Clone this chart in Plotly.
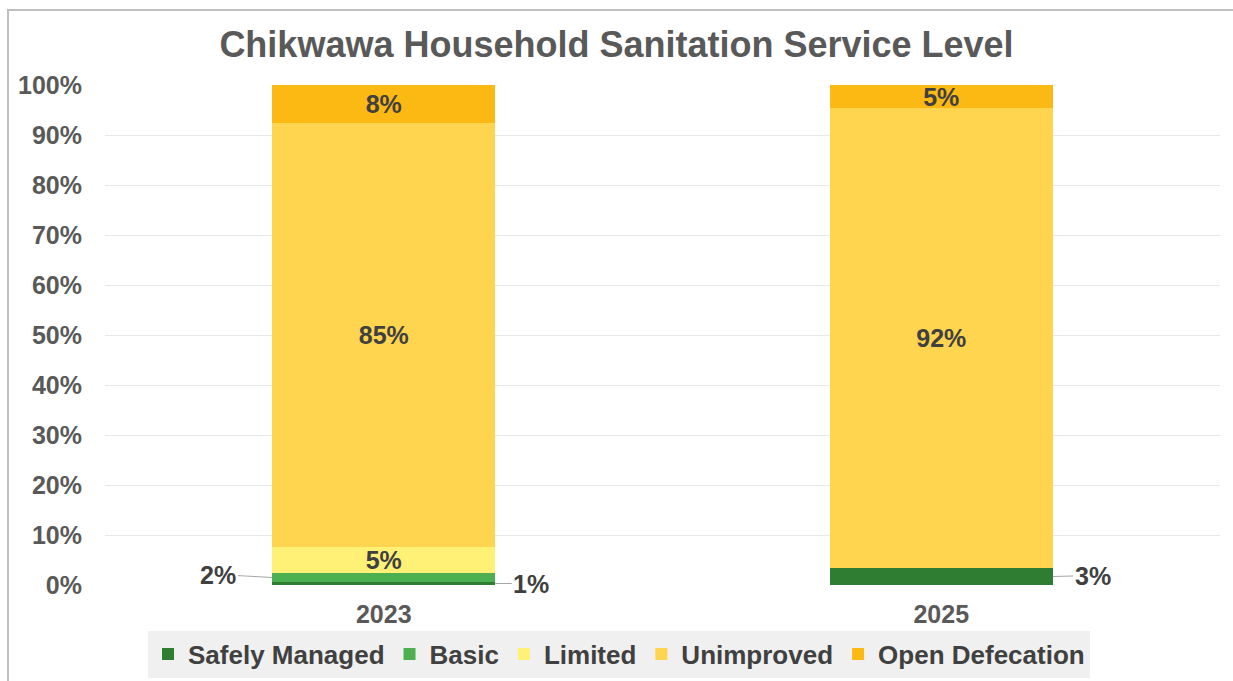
import plotly.graph_objects as go

years = ["2023", "2025"]
series_names = ["Safely Managed", "Basic", "Limited", "Unimproved", "Open Defecation"]
safely_managed = [0.6, 3.4]
basic = [1.8, 0.0]
limited = [5.2, 0.0]
unimproved = [84.8, 92.0]
open_defecation = [7.6, 4.6]
y_ticks = [0, 10, 20, 30, 40, 50, 60, 70, 80, 90, 100]
y_tick_labels = [f"{v}%" for v in y_ticks]

series_values = [safely_managed, basic, limited, unimproved, open_defecation]
colors = ["#2E7D32", "#4CAF50", "#FFF176", "#FFD54F", "#FDB913"]

FONT = "Liberation Sans, Arial, sans-serif"
TXT = "#404040"
BAR_WIDTH = 0.4
INSIDE_MIN = 4
FS = 25

fig = go.Figure()
for name, vals, col in zip(series_names, series_values, colors):
    texts = [f"{round(v)}%" if v >= INSIDE_MIN else "" for v in vals]
    fig.add_trace(go.Bar(
        name=name, x=years, y=vals, marker=dict(color=col, line=dict(width=0)),
        text=texts, textposition="inside", insidetextanchor="middle",
        constraintext="none", textangle=0,
        textfont=dict(family=FONT, size=FS, color=TXT, weight="bold"),
        width=BAR_WIDTH, hoverinfo="skip",
    ))

# outside callout labels for small segments
callouts = [
    # (series index, year index, side, ax, ay)
    (1, 0, -1, -54, -3),
    (0, 0, 1, 36, 0),
    (0, 1, 1, 40, -1),
]
annotations = []
for si, yi, side, ax, ay in callouts:
    below = sum(series_values[k][yi] for k in range(si))
    mid = below + series_values[si][yi] / 2
    annotations.append(dict(
        x=yi + side * BAR_WIDTH / 2, y=mid, xref="x", yref="y",
        text=f"{round(series_values[si][yi])}%", showarrow=True, arrowhead=0,
        arrowwidth=1, arrowcolor="#a6a6a6", ax=ax, ay=ay,
        font=dict(family=FONT, size=FS, color=TXT, weight="bold"), standoff=0,
    ))

fig.update_layout(
    width=1233, height=681,
    margin=dict(l=105, r=13, t=85, b=96, autoexpand=False),
    paper_bgcolor="white", plot_bgcolor="white",
    barmode="stack",
    title=dict(text="Chikwawa Household Sanitation Service Level",
               x=0.5, xanchor="center", y=1 - 44 / 681, yanchor="middle",
               font=dict(family=FONT, size=36, color="#595959", weight="bold")),
    font=dict(family=FONT, color="#595959", weight="bold"),
    yaxis=dict(range=[0, 100], tickvals=y_ticks, ticktext=y_tick_labels,
               showgrid=True, gridcolor="#e8e8e8", gridwidth=1,
               zeroline=False, showline=False, ticks="", automargin=False,
               ticklabelstandoff=22,
               tickfont=dict(family=FONT, size=FS, color="#595959", weight="bold")),
    xaxis=dict(showline=False, ticks="", ticklabelstandoff=12, automargin=False,
               tickfont=dict(family=FONT, size=FS, color="#595959", weight="bold")),
    legend=dict(orientation="h", x=0.461, xanchor="center", y=-0.138, yanchor="middle",
                bgcolor="#f0f0f0", borderwidth=0, traceorder="normal",
                font=dict(family=FONT, size=26, color="#404040", weight="bold"),
                itemwidth=30, tracegroupgap=0),
    annotations=annotations,
    shapes=[dict(type="rect", xref="paper", yref="paper",
                 x0=(8 - 105) / 1115, x1=(1245 - 105) / 1115,
                 y0=-(700 - 585) / 500, y1=1 + (85 - 10) / 500,
                 line=dict(color="#bfbfbf", width=2), fillcolor="rgba(0,0,0,0)",
                 layer="below")],
)

fig.write_html("out.html")
